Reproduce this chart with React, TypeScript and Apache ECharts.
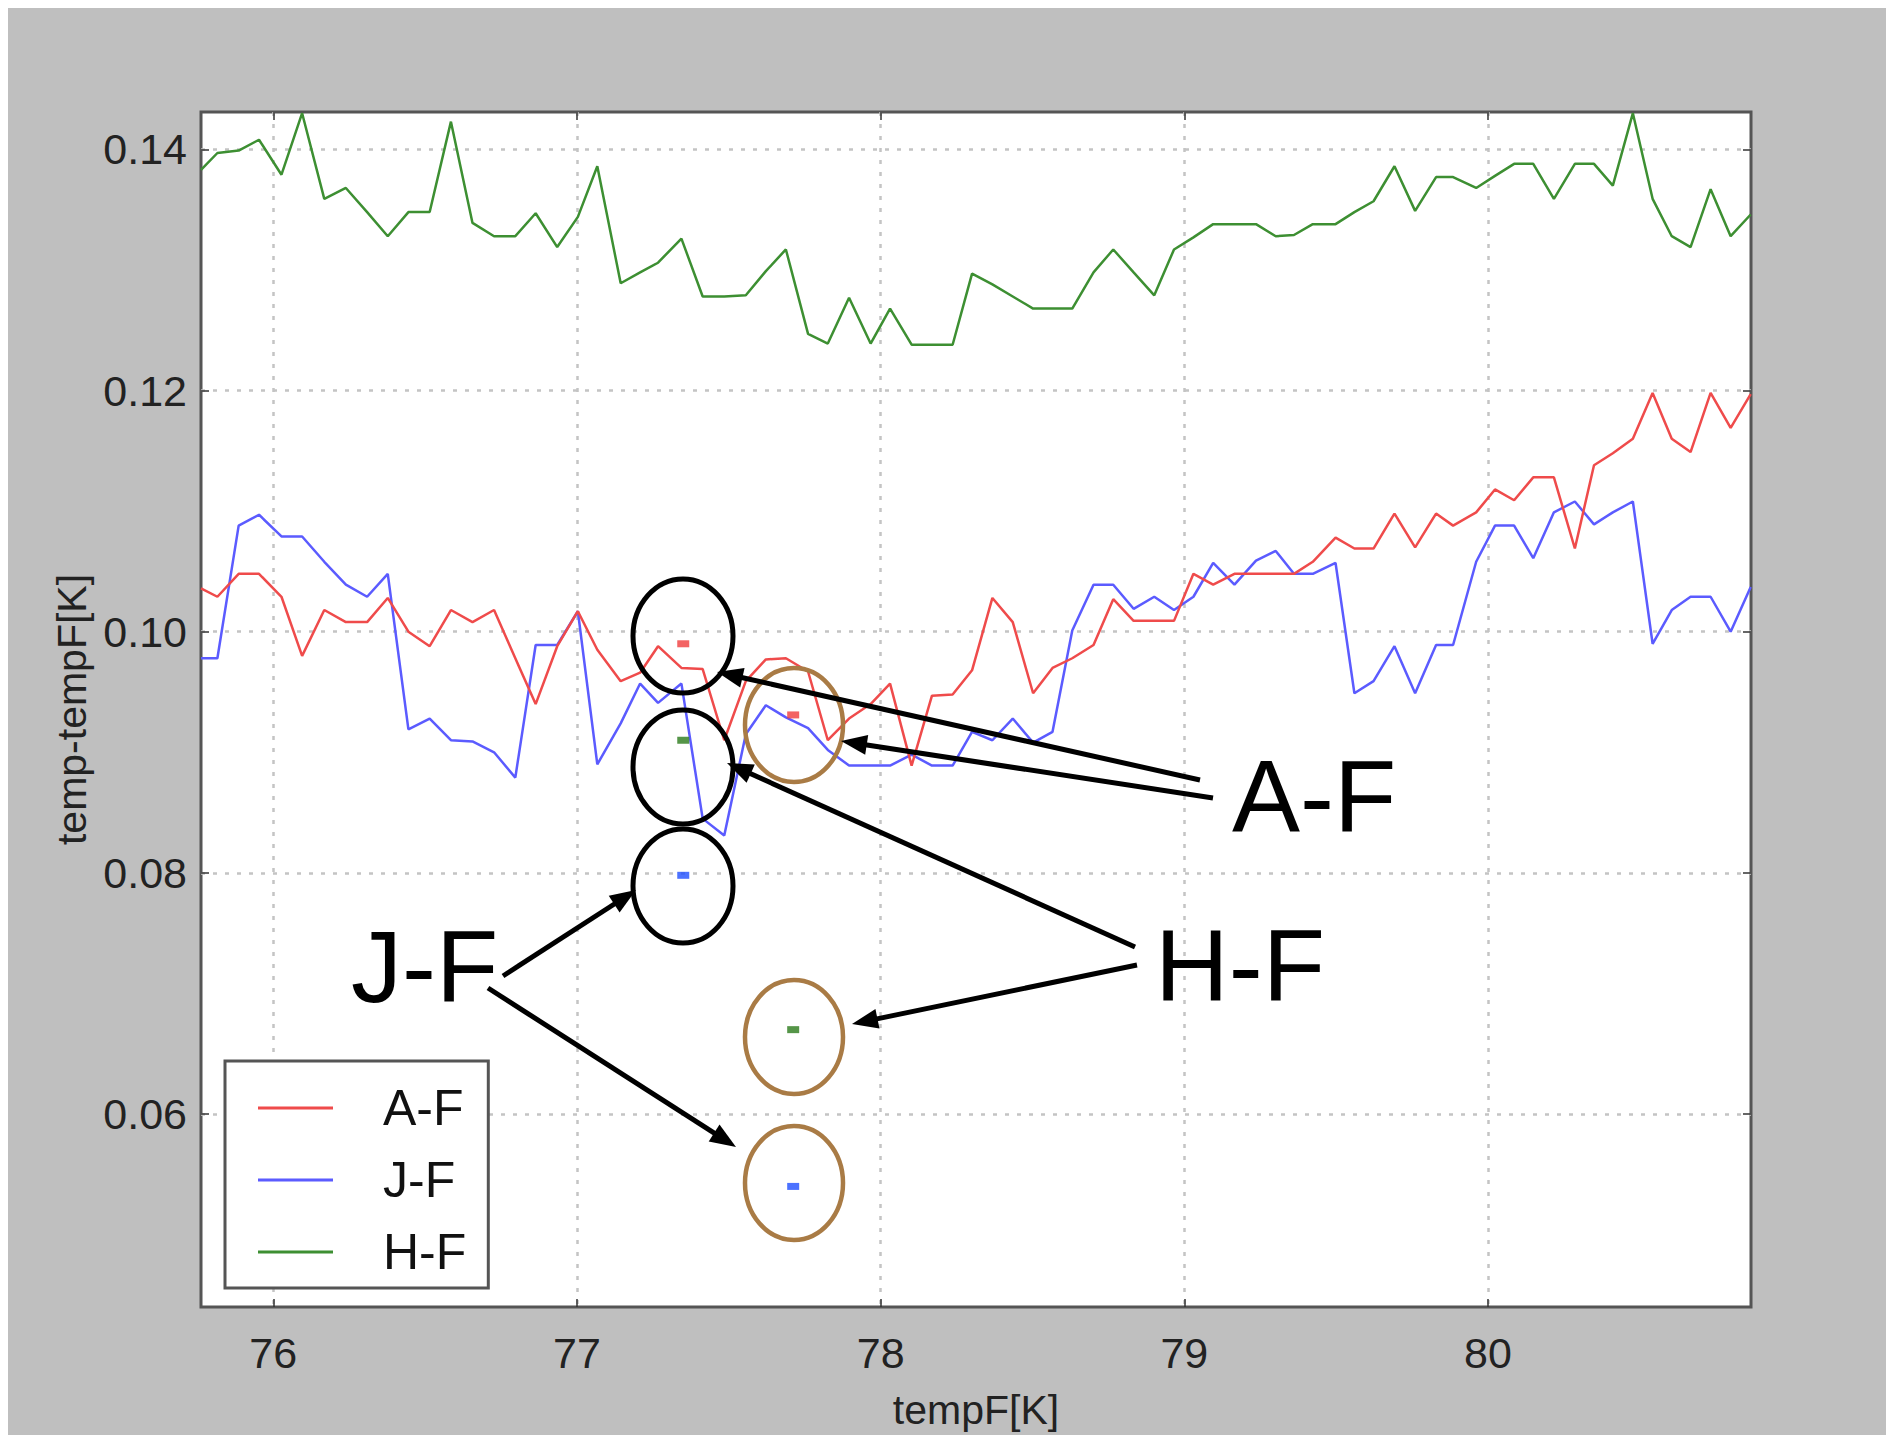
import React, { useEffect, useRef } from "react";
import * as echarts from "echarts";

// tempF[K] sample positions (shared by all three series)
const tempF = [
  75.762, 75.816, 75.886, 75.953, 76.027, 76.095, 76.168, 76.239, 76.309, 76.377,
  76.445, 76.515, 76.585, 76.656, 76.727, 76.797, 76.864, 76.935, 77.003, 77.067,
  77.144, 77.208, 77.267, 77.344, 77.414, 77.485, 77.556, 77.622, 77.688, 77.761,
  77.826, 77.896, 77.967, 78.031, 78.102, 78.169, 78.237, 78.301, 78.368, 78.435,
  78.502, 78.566, 78.631, 78.701, 78.766, 78.833, 78.901, 78.966, 79.030, 79.095,
  79.165, 79.236, 79.301, 79.361, 79.423, 79.498, 79.560, 79.623, 79.692, 79.760,
  79.829, 79.885, 79.961, 80.023, 80.086, 80.149, 80.217, 80.286, 80.349, 80.411,
  80.477, 80.542, 80.605, 80.667, 80.733, 80.799, 80.865,
];

const seriesAF = [
  0.1036, 0.1029, 0.1048, 0.1048, 0.1029, 0.0980, 0.1018, 0.1008, 0.1008, 0.1028,
  0.1000, 0.0988, 0.1018, 0.1008, 0.1018, 0.0978, 0.0940, 0.0988, 0.1017, 0.0985,
  0.0959, 0.0966, 0.0988, 0.0970, 0.0969, 0.0910, 0.0959, 0.0977, 0.0978, 0.0967,
  0.0910, 0.0928, 0.0940, 0.0957, 0.0889, 0.0947, 0.0948, 0.0968, 0.1028, 0.1008,
  0.0949, 0.0970, 0.0978, 0.0989, 0.1027, 0.1009, 0.1009, 0.1009, 0.1048, 0.1039,
  0.1048, 0.1048, 0.1048, 0.1048, 0.1058, 0.1078, 0.1069, 0.1069, 0.1098, 0.1070,
  0.1098, 0.1088, 0.1099, 0.1118, 0.1109, 0.1128, 0.1128, 0.1069, 0.1138, 0.1148,
  0.1160, 0.1198, 0.1160, 0.1149, 0.1198, 0.1169, 0.1197,
];

const seriesJF = [
  0.0978, 0.0978, 0.1088, 0.1097, 0.1079, 0.1079, 0.1058, 0.1039, 0.1029, 0.1048,
  0.0919, 0.0928, 0.0910, 0.0909, 0.0900, 0.0879, 0.0989, 0.0989, 0.1017, 0.0890,
  0.0924, 0.0957, 0.0941, 0.0957, 0.0845, 0.0831, 0.0915, 0.0939, 0.0929, 0.0920,
  0.0902, 0.0889, 0.0889, 0.0889, 0.0898, 0.0889, 0.0889, 0.0917, 0.0910, 0.0928,
  0.0908, 0.0917, 0.1001, 0.1039, 0.1039, 0.1019, 0.1029, 0.1018, 0.1029, 0.1057,
  0.1039, 0.1059, 0.1067, 0.1048, 0.1048, 0.1057, 0.0949, 0.0959, 0.0988, 0.0949,
  0.0989, 0.0989, 0.1058, 0.1088, 0.1088, 0.1061, 0.1099, 0.1108, 0.1089, 0.1099,
  0.1108, 0.0990, 0.1018, 0.1029, 0.1029, 0.1000, 0.1037,
];

const seriesHF = [
  0.1383, 0.1397, 0.1399, 0.1408, 0.1379, 0.1430, 0.1359, 0.1368, 0.1348, 0.1328,
  0.1348, 0.1348, 0.1423, 0.1339, 0.1328, 0.1328, 0.1347, 0.1319, 0.1344, 0.1386,
  0.1289, 0.1298, 0.1306, 0.1326, 0.1278, 0.1278, 0.1279, 0.1299, 0.1317, 0.1247,
  0.1239, 0.1277, 0.1239, 0.1268, 0.1238, 0.1238, 0.1238, 0.1297, 0.1288, 0.1278,
  0.1268, 0.1268, 0.1268, 0.1298, 0.1317, 0.1298, 0.1279, 0.1317, 0.1327, 0.1338,
  0.1338, 0.1338, 0.1328, 0.1329, 0.1338, 0.1338, 0.1348, 0.1357, 0.1386, 0.1349,
  0.1377, 0.1377, 0.1368, 0.1378, 0.1388, 0.1388, 0.1359, 0.1388, 0.1388, 0.1370,
  0.1430, 0.1359, 0.1328, 0.1319, 0.1367, 0.1328, 0.1346,
];

// isolated single-point markers
const markTemp = [77.35, 77.712];
const markAF = [0.099, 0.0931];
const markJF = [0.0798, 0.054];
const markHF = [0.091, 0.067];

const xTicks = [76, 77, 78, 79, 80];
const yTicks = [0.06, 0.08, 0.1, 0.12, 0.14];
const legendNames = ["A-F", "J-F", "H-F"];

const X_MIN = 75.762;
const X_MAX = 80.866;
const Y_MIN = 0.044;
const Y_MAX = 0.1431;

const FONT = "'Liberation Sans', Arial, Helvetica, sans-serif";
const RED = "#ef4b4b";
const BLUE = "#5b5bff";
const GREEN = "#3d8f32";

// annotation layout (container pixels)
const blackEllipses = [
  [675, 628],
  [675, 759],
  [675, 878],
];
const brownEllipses = [
  [786, 717],
  [786, 1029],
  [786, 1175],
];
const bigLabels: [string, number, number][] = [
  ["A-F", 1224, 789],
  ["H-F", 1147, 958],
  ["J-F", 343, 959],
];
const arrows = [
  [1192, 772, 709, 664],
  [1205, 790, 833, 733],
  [1127, 939, 719, 755],
  [1129, 957, 844, 1016],
  [495, 968, 628, 882],
  [480, 980, 728, 1139],
];

function arrowElems(x1: number, y1: number, x2: number, y2: number) {
  const dx = x2 - x1;
  const dy = y2 - y1;
  const L = Math.hypot(dx, dy);
  const ux = dx / L;
  const uy = dy / L;
  const hl = 26;
  const hw = 10;
  const bx = x2 - ux * hl;
  const by = y2 - uy * hl;
  return [
    {
      type: "line",
      z: 100,
      shape: { x1, y1, x2: bx + ux * 3, y2: by + uy * 3 },
      style: { stroke: "#000", lineWidth: 5 },
    },
    {
      type: "polygon",
      z: 100,
      shape: {
        points: [
          [x2, y2],
          [bx - uy * hw, by + ux * hw],
          [bx + uy * hw, by - ux * hw],
        ],
      },
      style: { fill: "#000" },
    },
  ];
}

export default function App() {
  const ref = useRef<HTMLDivElement>(null);

  useEffect(() => {
    if (!ref.current) return;
    const chart = echarts.init(ref.current, undefined, { renderer: "svg" });

    const pairs = (ys: number[]) => tempF.map((x, i) => [x, ys[i]]);
    const markPairs = (ys: number[]) => markTemp.map((x, i) => [x, ys[i]]);

    const graphics: any[] = [];
    blackEllipses.forEach(([cx, cy]) =>
      graphics.push({
        type: "ellipse",
        z: 100,
        shape: { cx, cy, rx: 50, ry: 57 },
        style: { fill: "none", stroke: "#000", lineWidth: 5 },
      })
    );
    brownEllipses.forEach(([cx, cy]) =>
      graphics.push({
        type: "ellipse",
        z: 100,
        shape: { cx, cy, rx: 49, ry: 57 },
        style: { fill: "none", stroke: "#a97b45", lineWidth: 4.5 },
      })
    );
    arrows.forEach(([a, b, c, d]) => graphics.push(...arrowElems(a, b, c, d)));
    bigLabels.forEach(([t, x, y]) =>
      graphics.push({
        type: "text",
        z: 100,
        x,
        y,
        style: {
          text: t,
          fontFamily: FONT,
          fontSize: 102,
          fill: "#000",
          align: "left",
          verticalAlign: "middle",
        },
      })
    );

    const tickLabel = {
      fontFamily: FONT,
      fontSize: 43,
      color: "#222",
    };
    const dotted = { color: "#c4c4c4", width: 2.5, type: [4, 8] as any };

    chart.setOption({
      animation: false,
      backgroundColor: "#bfbfbf",
      grid: {
        left: 193,
        top: 104,
        width: 1550,
        height: 1201,
        show: true,
        backgroundColor: "#ffffff",
        borderColor: "#555555",
        borderWidth: 3,
      },
      legend: {
        data: legendNames.map((n) => ({ name: n, icon: "rect" })),
        orient: "vertical",
        left: 217,
        top: 1053,
        padding: [22, 22, 11, 33],
        itemGap: 22,
        itemWidth: 75,
        itemHeight: 3,
        backgroundColor: "#ffffff",
        borderColor: "#555555",
        borderWidth: 3,
        borderRadius: 0,
        textStyle: {
          fontFamily: FONT,
          fontSize: 50,
          lineHeight: 50,
          color: "#111",
          padding: [0, 0, 0, 45],
        },
      },
      xAxis: [
        {
          type: "value",
          min: X_MIN,
          max: X_MAX,
          name: "tempF[K]",
          nameLocation: "middle",
          nameGap: 82,
          nameTextStyle: { fontFamily: FONT, fontSize: 41, color: "#222" },
          axisLine: { show: false },
          axisTick: {
            show: true,
            inside: true,
            length: 8,
            customValues: xTicks,
            lineStyle: { color: "#333", width: 1.5 },
          },
          axisLabel: {
            ...tickLabel,
            margin: 24,
            customValues: xTicks,
            formatter: (v: number) => String(Math.round(v)),
          },
          splitLine: { show: true, lineStyle: dotted },
        },
        {
          type: "value",
          position: "top",
          min: X_MIN,
          max: X_MAX,
          axisLine: { show: false },
          axisTick: {
            show: true,
            inside: true,
            length: 8,
            customValues: xTicks,
            lineStyle: { color: "#333", width: 1.5 },
          },
          axisLabel: { show: false },
          splitLine: { show: false },
        },
      ],
      yAxis: [
        {
          type: "value",
          min: Y_MIN,
          max: Y_MAX,
          name: "temp-tempF[K]",
          nameLocation: "middle",
          nameGap: 108,
          nameTextStyle: { fontFamily: FONT, fontSize: 41, color: "#222" },
          axisLine: { show: false },
          axisTick: {
            show: true,
            inside: true,
            length: 8,
            customValues: yTicks,
            lineStyle: { color: "#333", width: 1.5 },
          },
          axisLabel: {
            ...tickLabel,
            margin: 14,
            padding: [16, 0, 0, 0],
            customValues: yTicks,
            formatter: (v: number) => v.toFixed(2),
          },
          splitLine: { show: true, lineStyle: dotted },
        },
        {
          type: "value",
          position: "right",
          min: Y_MIN,
          max: Y_MAX,
          axisLine: { show: false },
          axisTick: {
            show: true,
            inside: true,
            length: 8,
            customValues: yTicks,
            lineStyle: { color: "#333", width: 1.5 },
          },
          axisLabel: { show: false },
          splitLine: { show: false },
        },
      ],
      series: [
        {
          name: "A-F",
          type: "line",
          data: pairs(seriesAF),
          symbol: "none",
          showSymbol: false,
          lineStyle: { color: RED, width: 2.5 },
          itemStyle: { color: RED },
          z: 3,
        },
        {
          name: "J-F",
          type: "line",
          data: pairs(seriesJF),
          symbol: "none",
          showSymbol: false,
          lineStyle: { color: BLUE, width: 2.5 },
          itemStyle: { color: BLUE },
          z: 2,
        },
        {
          name: "H-F",
          type: "line",
          data: pairs(seriesHF),
          symbol: "none",
          showSymbol: false,
          lineStyle: { color: GREEN, width: 2.5 },
          itemStyle: { color: GREEN },
          z: 2,
        },
        {
          name: "A-F point",
          type: "scatter",
          data: markPairs(markAF),
          symbol: "rect",
          symbolSize: [12, 7],
          itemStyle: { color: "#f03c3c" },
          z: 4,
        },
        {
          name: "J-F point",
          type: "scatter",
          data: markPairs(markJF),
          symbol: "rect",
          symbolSize: [12, 7],
          itemStyle: { color: "#1f4fff" },
          z: 4,
        },
        {
          name: "H-F point",
          type: "scatter",
          data: markPairs(markHF),
          symbol: "rect",
          symbolSize: [12, 7],
          itemStyle: { color: "#2a7a1a" },
          z: 4,
        },
      ],
      graphic: { elements: graphics },
    });

    return () => chart.dispose();
  }, []);

  return (
    <div
      ref={ref}
      style={{
        position: "fixed",
        left: 8,
        top: 8,
        width: 1878,
        height: 1427,
        background: "#bfbfbf",
      }}
    />
  );
}
